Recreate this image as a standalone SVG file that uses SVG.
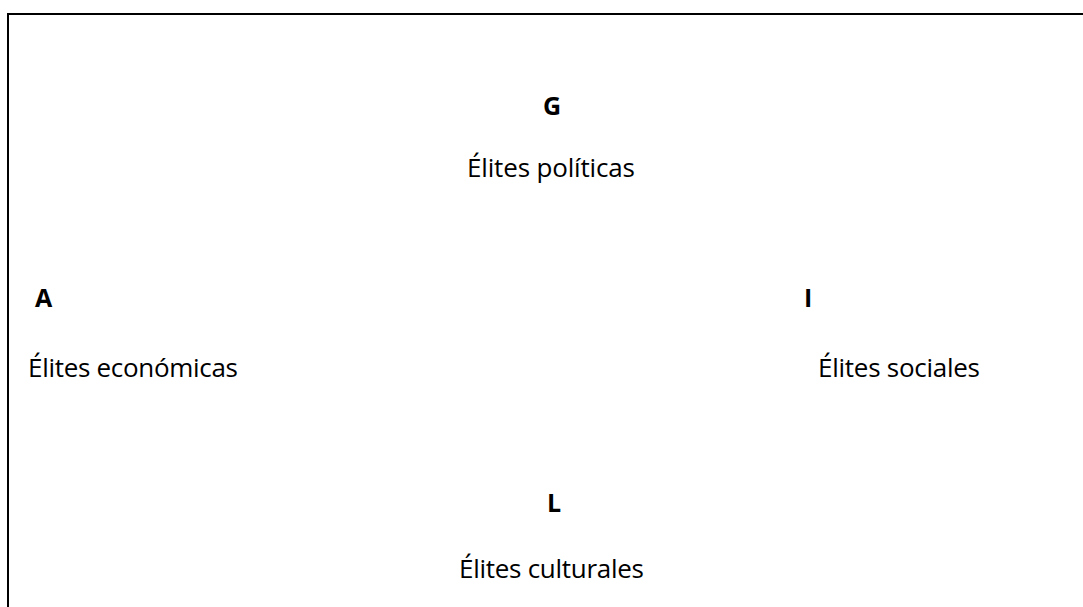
<svg xmlns="http://www.w3.org/2000/svg" width="1083" height="607" viewBox="0 0 1083 607">
  <style>
    .frame { fill: none; stroke: #000; stroke-width: 2; }
    .key { font-family: "Open Sans", "Liberation Sans", sans-serif; font-size: 25px; font-weight: bold; fill: #000; }
    .lbl { font-family: "Open Sans", "Liberation Sans", sans-serif; font-size: 26px; fill: #000; }
  </style>
  <rect width="1083" height="607" fill="#fff"/>
  <rect class="frame" x="8" y="14" width="1100" height="620"/>
  <g id="node-G">
    <text class="key" x="543" y="115">G</text>
    <text class="lbl" x="467" y="177" textLength="168">Élites políticas</text>
  </g>
  <g id="node-A">
    <text class="key" x="35" y="307">A</text>
    <text class="lbl" x="28" y="377" textLength="210">Élites económicas</text>
  </g>
  <g id="node-I">
    <text class="key" x="804" y="307">I</text>
    <text class="lbl" x="818" y="377" textLength="162">Élites sociales</text>
  </g>
  <g id="node-L">
    <text class="key" x="547" y="512">L</text>
    <text class="lbl" x="459" y="578" textLength="185">Élites culturales</text>
  </g>
</svg>
